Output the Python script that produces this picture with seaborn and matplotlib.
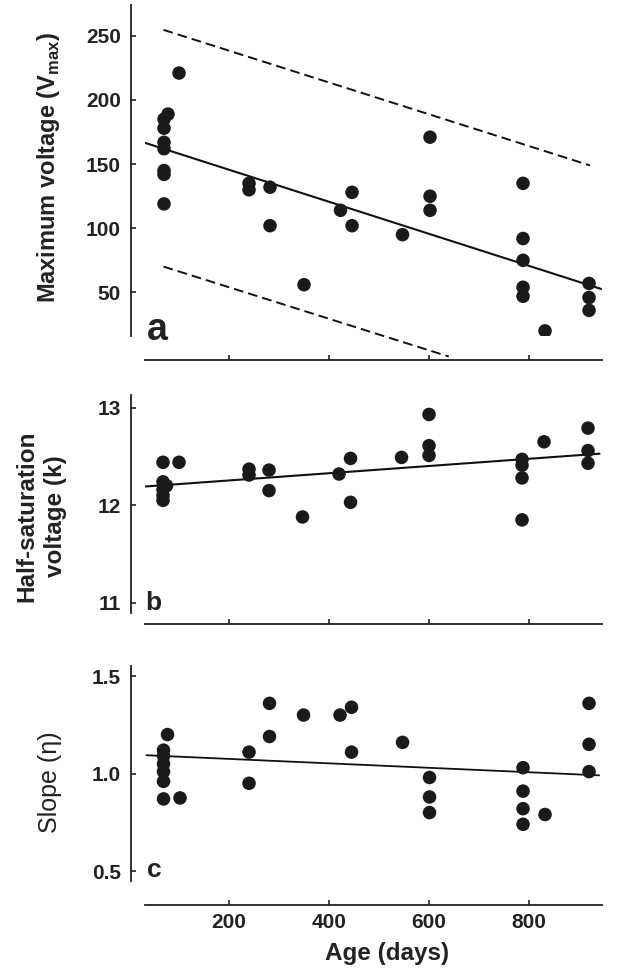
import matplotlib
matplotlib.use("Agg")
import matplotlib.pyplot as plt
import seaborn as sns
import numpy as np
import pandas as pd

# panel a: maximum voltage vs age
age_a = [70, 70, 70, 70, 70, 70, 70, 78, 100, 240, 240, 282, 282, 350, 423, 446, 446,
         547, 602, 602, 602, 788, 788, 788, 788, 788, 832, 920, 920, 920]
vmax_a = [185, 178, 167, 162, 145, 142, 119, 189, 221, 135, 130, 132, 102, 56, 114, 128, 102,
          95, 171, 125, 114, 135, 92, 75, 54, 47, 20, 57, 46, 36]
fit_a = (170.6, -0.1249)       # intercept, slope
upper_a = (263.2, -0.1239)
lower_a = (78.6, -0.1229)

# panel b: half-saturation voltage vs age
age_b = [68, 68, 68, 68, 68, 75, 100, 240, 240, 280, 280, 347, 420, 443, 443, 545,
         600, 600, 600, 786, 786, 786, 786, 830, 918, 918, 918]
k_b = [12.44, 12.24, 12.16, 12.10, 12.05, 12.20, 12.44, 12.37, 12.31, 12.36, 12.15, 11.88,
       12.32, 12.48, 12.03, 12.49, 12.93, 12.61, 12.51, 12.47, 12.41, 12.28, 11.85, 12.65,
       12.79, 12.56, 12.43]
fit_b = (12.18, 0.00037)

# panel c: slope vs age
age_c = [69, 69, 69, 69, 69, 69, 77, 102, 240, 240, 281, 281, 349, 422, 445, 445, 547,
         601, 601, 601, 788, 788, 788, 788, 832, 920, 920, 920]
eta_c = [1.12, 1.09, 1.05, 1.01, 0.96, 0.87, 1.20, 0.875, 1.11, 0.95, 1.36, 1.19, 1.30,
         1.30, 1.34, 1.11, 1.16, 0.98, 0.88, 0.80, 1.03, 0.91, 0.82, 0.74, 0.79, 1.36, 1.15, 1.01]
fit_c = (1.098, -0.000114)

x_ticks = [200, 400, 600, 800]
x_lim = (32, 946)

sns.set_style("ticks")
plt.rcParams['font.family'] = ['Liberation Sans', 'DejaVu Sans']
plt.rcParams['font.weight'] = 'bold'
plt.rcParams['axes.labelweight'] = 'bold'

DOT = '#1a1a1a'
INK = '#222222'

fig = plt.figure(figsize=(6.24, 9.72), dpi=100)
ax_a = fig.add_axes([0.2324, 0.6543, 0.7324, 0.3405])
ax_b = fig.add_axes([0.2324, 0.3697, 0.7324, 0.2240])
ax_c = fig.add_axes([0.2324, 0.0936, 0.7324, 0.2215])


def style_axis(ax, ylim, yticks, xoffset, labels_on):
    ax.set_xlim(*x_lim)
    ax.set_ylim(*ylim)
    ax.set_xticks(x_ticks)
    ax.set_yticks(yticks)
    sns.despine(ax=ax)
    ax.spines['left'].set_position(('outward', 10))
    ax.spines['bottom'].set_position(('outward', xoffset))
    for s in ['left', 'bottom']:
        ax.spines[s].set_linewidth(1.3)
        ax.spines[s].set_color(INK)
    ax.tick_params(direction='in', length=3.5, width=1.2, colors=INK, labelsize=15)
    ax.tick_params(axis='x', pad=5.5, labelbottom=labels_on)
    ax.tick_params(axis='y', pad=7.5)
    for lab in ax.get_xticklabels() + ax.get_yticklabels():
        lab.set_fontweight('bold')
        lab.set_color(INK)


def fit_line(ax, params, x0, x1, **kw):
    xs = np.array([x0, x1], dtype=float)
    ys = params[0] + params[1] * xs
    sns.lineplot(x=xs, y=ys, ax=ax, color='#111111', **kw)


# panel a
df_a = pd.DataFrame({'age': age_a, 'v': vmax_a})
sns.scatterplot(data=df_a, x='age', y='v', ax=ax_a, color=DOT, s=95, edgecolor='none', zorder=3)
fit_line(ax_a, fit_a, 33, 944, lw=1.5)
fit_line(ax_a, upper_a, min(age_a) - 1, max(age_a) + 2, lw=1.4, linestyle=(0, (5, 2.6)))
x_end = min(max(age_a), -lower_a[0] / lower_a[1])
fit_line(ax_a, lower_a, min(age_a) - 1, x_end, lw=1.4, linestyle=(0, (5, 2.6)))
ax_a.lines[-1].set_clip_on(False)
style_axis(ax_a, (16, 274), [50, 100, 150, 200, 250], 17, False)
ax_a.set_xlabel('')
ax_a.set_ylabel(r'Maximum voltage (V$_{\mathregular{max}}$)', fontsize=17, color=INK)
ax_a.yaxis.set_label_coords(-0.182, 0.509)
ax_a.text(0.004, -0.012, 'a', transform=ax_a.transAxes, fontsize=27, fontweight='bold',
          va='baseline', ha='left', color=INK)

# panel b
df_b = pd.DataFrame({'age': age_b, 'k': k_b})
sns.scatterplot(data=df_b, x='age', y='k', ax=ax_b, color=DOT, s=95, edgecolor='none', zorder=3)
fit_line(ax_b, fit_b, 33, 941, lw=1.5)
style_axis(ax_b, (10.9, 13.13), [11, 12, 13], 8, False)
ax_b.set_xlabel('')
ax_b.set_ylabel('Half-saturation\nvoltage (k)', fontsize=17.5, color=INK, linespacing=1.3)
ax_b.yaxis.set_label_coords(-0.171, 0.445)
ax_b.text(0.0, 0.012, 'b', transform=ax_b.transAxes, fontsize=19, fontweight='bold',
          va='baseline', ha='left', color=INK)

# panel c
df_c = pd.DataFrame({'age': age_c, 'eta': eta_c})
sns.scatterplot(data=df_c, x='age', y='eta', ax=ax_c, color=DOT, s=95, edgecolor='none', zorder=3)
fit_line(ax_c, fit_c, 35, 940, lw=1.3)
style_axis(ax_c, (0.449, 1.553), [0.5, 1.0, 1.5], 17.6, True)
ax_c.set_yticklabels(['0.5', '1.0', '1.5'], fontweight='bold')
ax_c.set_xlabel('Age (days)', fontsize=17.5, color=INK)
ax_c.xaxis.set_label_coords(0.529, -0.285)
ax_c.xaxis.label.set_va('top')
ax_c.set_ylabel('Slope (η)', fontsize=18, fontweight='normal', color=INK)
ax_c.yaxis.set_label_coords(-0.182, 0.461)
ax_c.text(0.004, 0.02, 'c', transform=ax_c.transAxes, fontsize=19, fontweight='bold',
          va='baseline', ha='left', color=INK)

fig.savefig('out.png', dpi=100)
